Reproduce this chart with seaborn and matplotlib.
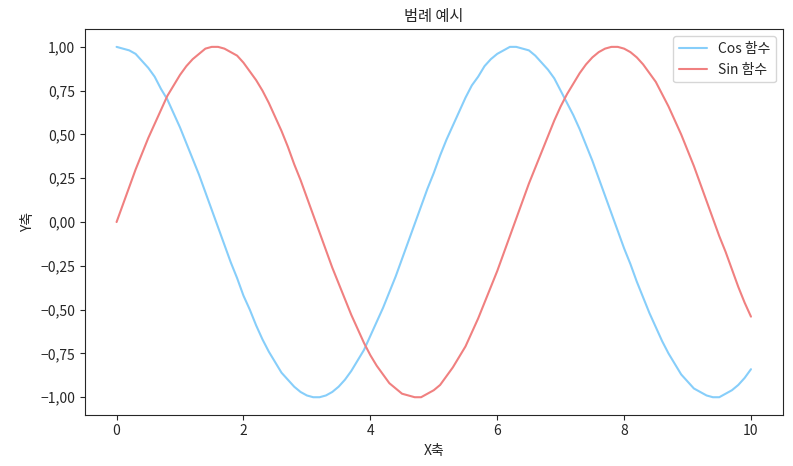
import pandas as pd
import matplotlib
matplotlib.use("Agg")
import matplotlib.pyplot as plt
from matplotlib.ticker import FuncFormatter
import seaborn as sns

# 데이터 (그림에서 읽은 값, x 간격 0.1)
x_vals = [0.0, 0.1, 0.2, 0.3, 0.4, 0.5, 0.6, 0.7, 0.8, 0.9,
          1.0, 1.1, 1.2, 1.3, 1.4, 1.5, 1.6, 1.7, 1.8, 1.9,
          2.0, 2.1, 2.2, 2.3, 2.4, 2.5, 2.6, 2.7, 2.8, 2.9,
          3.0, 3.1, 3.2, 3.3, 3.4, 3.5, 3.6, 3.7, 3.8, 3.9,
          4.0, 4.1, 4.2, 4.3, 4.4, 4.5, 4.6, 4.7, 4.8, 4.9,
          5.0, 5.1, 5.2, 5.3, 5.4, 5.5, 5.6, 5.7, 5.8, 5.9,
          6.0, 6.1, 6.2, 6.3, 6.4, 6.5, 6.6, 6.7, 6.8, 6.9,
          7.0, 7.1, 7.2, 7.3, 7.4, 7.5, 7.6, 7.7, 7.8, 7.9,
          8.0, 8.1, 8.2, 8.3, 8.4, 8.5, 8.6, 8.7, 8.8, 8.9,
          9.0, 9.1, 9.2, 9.3, 9.4, 9.5, 9.6, 9.7, 9.8, 9.9, 10.0]
cos_vals = [1.00, 0.99, 0.98, 0.96, 0.92, 0.88, 0.83, 0.76, 0.70, 0.62,
            0.54, 0.45, 0.36, 0.27, 0.17, 0.07, -0.03, -0.13, -0.23, -0.32,
            -0.42, -0.50, -0.59, -0.67, -0.74, -0.80, -0.86, -0.90, -0.94, -0.97,
            -0.99, -1.00, -1.00, -0.99, -0.97, -0.94, -0.90, -0.85, -0.79, -0.73,
            -0.65, -0.57, -0.49, -0.40, -0.31, -0.21, -0.11, -0.01, 0.09, 0.19,
            0.28, 0.38, 0.47, 0.55, 0.63, 0.71, 0.78, 0.83, 0.89, 0.93,
            0.96, 0.98, 1.00, 1.00, 0.99, 0.98, 0.95, 0.91, 0.87, 0.82,
            0.75, 0.68, 0.61, 0.53, 0.44, 0.35, 0.25, 0.15, 0.05, -0.05,
            -0.15, -0.24, -0.34, -0.43, -0.52, -0.60, -0.68, -0.75, -0.81, -0.87,
            -0.91, -0.95, -0.97, -0.99, -1.00, -1.00, -0.98, -0.96, -0.93, -0.89, -0.84]
sin_vals = [0.00, 0.10, 0.20, 0.30, 0.39, 0.48, 0.56, 0.64, 0.72, 0.78,
            0.84, 0.89, 0.93, 0.96, 0.99, 1.00, 1.00, 0.99, 0.97, 0.95,
            0.91, 0.86, 0.81, 0.75, 0.68, 0.60, 0.52, 0.43, 0.33, 0.24,
            0.14, 0.04, -0.06, -0.16, -0.26, -0.35, -0.44, -0.53, -0.61, -0.69,
            -0.76, -0.82, -0.87, -0.92, -0.95, -0.98, -0.99, -1.00, -1.00, -0.98,
            -0.96, -0.93, -0.88, -0.83, -0.77, -0.71, -0.63, -0.55, -0.46, -0.37,
            -0.28, -0.18, -0.08, 0.02, 0.12, 0.22, 0.31, 0.40, 0.49, 0.58,
            0.66, 0.73, 0.79, 0.85, 0.90, 0.94, 0.97, 0.99, 1.00, 1.00,
            0.99, 0.97, 0.94, 0.90, 0.85, 0.80, 0.73, 0.66, 0.58, 0.50,
            0.41, 0.32, 0.22, 0.12, 0.02, -0.08, -0.17, -0.27, -0.37, -0.46, -0.54]
series_names = ["Cos 함수", "Sin 함수"]
series_colors = ["#87CEFA", "#F08080"]

df = pd.DataFrame({
    "x": x_vals * 2,
    "y": cos_vals + sin_vals,
    "series": [series_names[0]] * len(x_vals) + [series_names[1]] * len(x_vals),
})

sns.set_style("ticks")
plt.rcParams['font.family'] = ['Noto Sans CJK KR', 'DejaVu Sans']
plt.rcParams['axes.unicode_minus'] = True

fig, ax = plt.subplots(figsize=(7.93, 4.66), dpi=100)
fig.subplots_adjust(left=0.107, right=0.987, top=0.937, bottom=0.110)

sns.lineplot(data=df, x="x", y="y", hue="series", hue_order=series_names,
             palette=series_colors, ax=ax, linewidth=1.5)

ax.set_title("범례 예시", fontsize=11)
ax.set_xlabel("X축", fontsize=10)
ax.set_ylabel("Y축", fontsize=10)
ax.yaxis.set_major_formatter(FuncFormatter(lambda v, p: f"{v:.2f}".replace(".", ",").replace("-", "\u2212")))
ax.legend(loc="upper right", fontsize=10)

plt.savefig("out.png", dpi=100)
plt.close()
